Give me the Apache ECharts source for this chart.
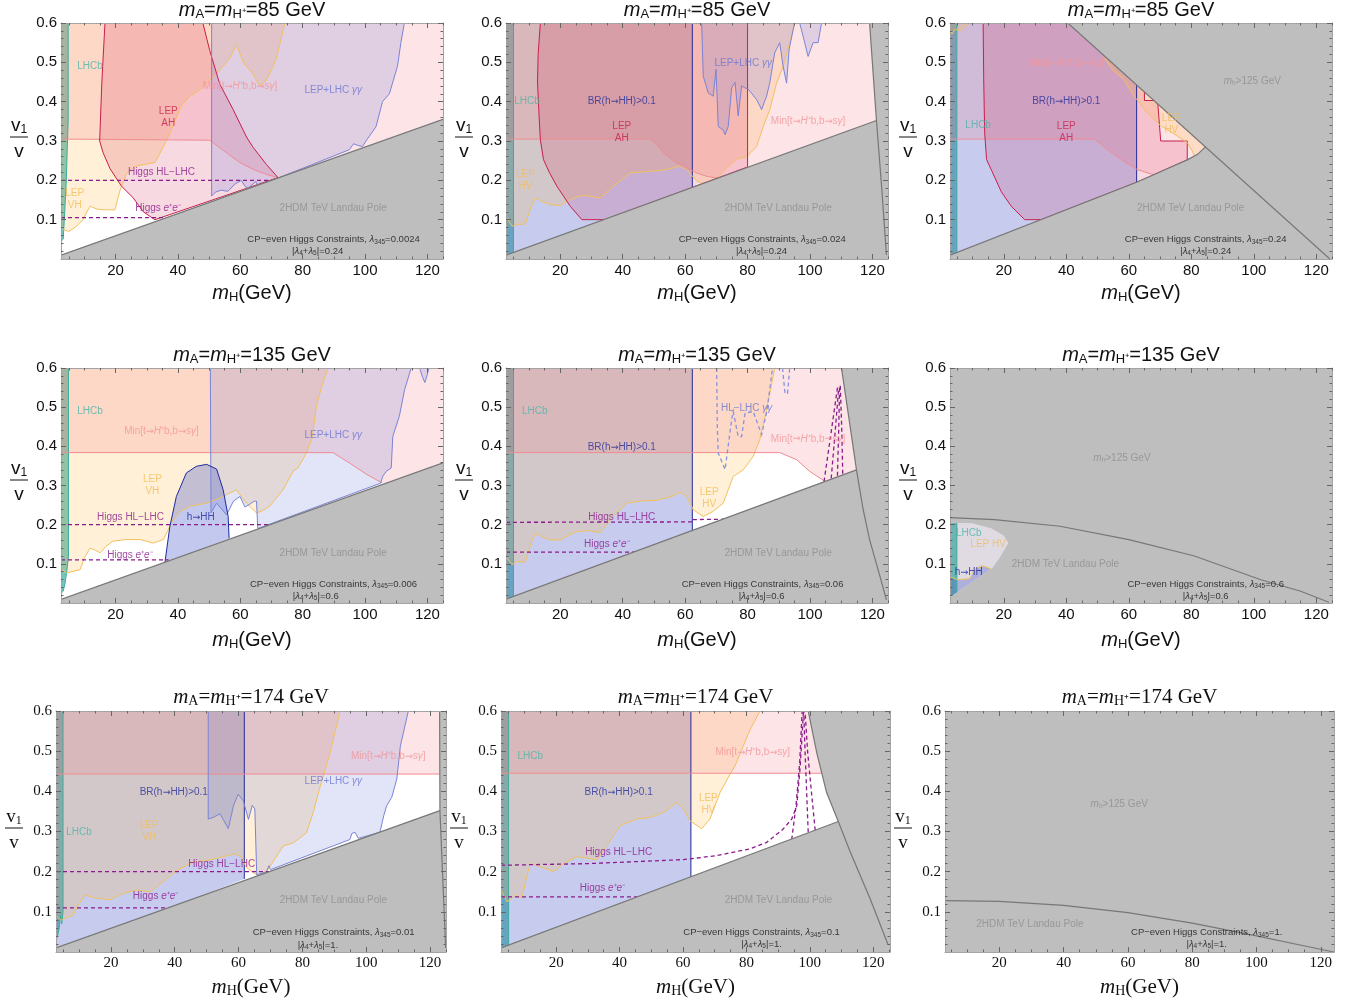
<!DOCTYPE html>
<html>
<head>
<meta charset="utf-8">
<script src="https://cdn.jsdelivr.net/npm/echarts@6/dist/echarts.min.js"></script>
<style>html,body{margin:0;padding:0;background:#fff}#main{width:1349px;height:999px}</style>
</head>
<body>
<div id="main"></div>
<script>
// ---- tick values ----
const xMajor = [20, 40, 60, 80, 100, 120];
const yMajor = [0.1, 0.2, 0.3, 0.4, 0.5, 0.6];

// ---- panel parameters ----
const MA = [85, 85, 85, 135, 135, 135, 174, 174, 174];
const L345 = ['0.0024', '0.024', '0.24', '0.006', '0.06', '0.6', '0.01', '0.1', '1.'];
const L45 = ['0.24', '0.24', '0.24', '0.6', '0.6', '0.6', '1.', '1.', '1.'];
const XR = [[2.5, 125], [2.6, 125], [2.8, 125], [2.5, 125], [2.6, 125], [2.8, 125], [2.8, 125], [2.6, 125.3], [3.1, 124.1]];

// ---- panel 1 : mA=85, l345=0.0024 ----
const p1LhcbEdge = [[4.8,0.6],[4.8,0.35],[4.5,0.28],[4.2,0.2],[3.7,0.12],[3.2,0.05]];
const p1LhcbClose = [[2.5,0.04],[2.5,0.6]];
const p1LepEdge = [[3.2,0.075],[5,0.07],[7.5,0.083],[9.5,0.1],[11.8,0.134],[14,0.127],[16,0.125],[19.8,0.125],[21.4,0.174],[23.5,0.216],[26,0.235],[28.9,0.24],[32.6,0.245],[35,0.28],[37.4,0.32],[41.1,0.39],[44,0.415],[47,0.43],[52.3,0.47],[56.6,0.51],[58.8,0.545],[60.9,0.5],[64.1,0.47],[66.2,0.44],[68.4,0.454],[71.6,0.51],[74.3,0.6]];
const p1LepClose = [[2.5,0.6],[2.5,0.075]];
const p1MinEdge = [[2.5,0.305],[50.2,0.302],[55.6,0.27],[59.9,0.245],[64.1,0.228],[68.4,0.215],[72.1,0.207]];
const p1MinClose = [[125,0.2],[125,0.6],[2.5,0.6]];
const p1AhEdge = [[16.6,0.6],[15.6,0.45],[14.9,0.3],[16,0.27],[18.2,0.23],[21.9,0.185],[25.6,0.156],[28.9,0.12],[32.6,0.1],[72.1,0.207],[68.4,0.24],[64.1,0.284],[62,0.31],[57.7,0.38],[53.4,0.445],[50.2,0.53],[48,0.6]];
const p1GgEdge = [[50.8,0.6],[50.8,0.16],[52,0.17],[53.9,0.175],[56,0.172],[58.2,0.19],[60.3,0.2],[61.5,0.185],[62.4,0.18],[64,0.19],[65,0.197],[65.6,0.185],[95,0.278],[96.3,0.293],[98,0.288],[99.2,0.286],[100.3,0.3],[103.5,0.336],[105.6,0.4],[107.8,0.42],[110.4,0.49],[111.5,0.55],[112.6,0.6]];
const p1HL = [[2.5,0.2],[70,0.2]];
const p1Ee = [[2.5,0.105],[35.5,0.105]];
const p1Gray = [[2.5,0],[2.5,0.01],[125,0.355],[125,0]];
const p1GrayEdge = [[2.5,0.01],[125,0.355]];
const p1Labels = [
  [11.8,0.49,'LHCb','lhcb'],
  [36.9,0.36,'LEP\nAH','ah'],
  [59.9,0.439,'Min[t→{i|H}⁺b,b→s{i|γ}]','min'],
  [89.8,0.43,'LEP+LHC {i|γγ}','gg'],
  [34.7,0.221,'Higgs HL−LHC','higgs'],
  [33.6,0.13,'Higgs {i|e}⁺{i|e}⁻','higgs'],
  [6.9,0.152,'LEP\nVH','lep'],
  [89.8,0.13,'2HDM TeV Landau Pole','gray']
];

// ---- panel 2 : mA=85, l345=0.024 ----
const p2LhcbEdge = [[5,0.6],[5,0.01]];
const p2LhcbClose = [[2.6,0.01],[2.6,0.6]];
const p2BrEdge = [[62.3,0.6],[62.3,0.18]];
const p2BrClose = [[2.6,0],[2.6,0.6]];
const p2LepEdge = [[2.9,0.104],[4.5,0.083],[6,0.088],[8.8,0.089],[10.5,0.13],[12,0.155],[14.5,0.145],[16.8,0.138],[20,0.136],[23.2,0.151],[26,0.16],[28.5,0.161],[32.8,0.155],[37,0.185],[42.4,0.219],[48.8,0.223],[54.1,0.227],[58.4,0.237],[60.5,0.227],[63.7,0.198],[66.9,0.189],[70.1,0.206],[73.3,0.231],[76.5,0.254],[79.7,0.26],[82.9,0.286],[85,0.336],[87.1,0.379],[89.3,0.447],[91.4,0.49],[94.1,0.566],[95.1,0.6]];
const p2LepClose = [[2.6,0.6],[2.6,0.104]];
const p2MinEdge = [[2.6,0.305],[48.8,0.305],[51,0.29],[53,0.27],[57.3,0.244],[63.7,0.219],[67,0.21],[71,0.205]];
const p2MinClose = [[125,0.2],[125,0.6],[2.6,0.6]];
const p2AhEdge = [[13.6,0.6],[12.9,0.52],[12.7,0.45],[13.1,0.38],[13.6,0.304],[14.6,0.253],[16.5,0.22],[18.9,0.185],[23.2,0.134],[26.9,0.1],[34.4,0.1],[80,0.234],[80,0.6]];
const p2GgEdge = [[65.3,0.6],[65.8,0.465],[67.4,0.422],[69,0.414],[69.9,0.482],[70.6,0.337],[72.2,0.328],[72.8,0.316],[73.8,0.337],[74.9,0.435],[76,0.449],[77,0.364],[78.1,0.44],[78.9,0.436],[80.2,0.432],[82.9,0.405],[84.5,0.38],[86.1,0.414],[87.1,0.447],[88.7,0.524],[90.3,0.55],[91.4,0.49],[92.5,0.447],[93.3,0.532],[94.6,0.583],[95.1,0.6]];
const p2Gg2Edge = [[96.7,0.6],[97.8,0.566],[99.4,0.515],[101,0.55],[102.6,0.55],[103.7,0.6]];
const p2Gray = [[2.6,0],[2.6,0.01],[121.3,0.352],[119.1,0.6],[125,0.6],[125,0]];
const p2GrayEdge = [[2.6,0.01],[121.3,0.352]];
const p2SteepEdge = [[119.1,0.6],[121.3,0.352],[123,0.18],[124.5,0.01]];
const p2Labels = [
  [9.3,0.401,'LHCb','lhcb'],
  [39.7,0.401,'BR(h→HH)>0.1','br'],
  [39.7,0.321,'LEP\nAH','ah'],
  [78.6,0.498,'LEP+LHC {i|γγ}','gg'],
  [99.4,0.35,'Min[t→{i|H}⁺b,b→s{i|γ}]','min'],
  [8.8,0.2,'LEP\nHV','lep'],
  [89.8,0.13,'2HDM TeV Landau Pole','gray']
];

// ---- panel 3 : mA=85, l345=0.24 ----
const p3LhcbEdge = [[5,0.6],[5,0.01]];
const p3LhcbClose = [[2.8,0.01],[2.8,0.6]];
const p3BrEdge = [[62.5,0.6],[62.5,0.195]];
const p3BrClose = [[2.8,0],[2.8,0.6]];
const p3MinEdge = [[2.8,0.305],[49,0.305],[52.2,0.284],[57.5,0.253],[62.8,0.227],[68,0.214]];
const p3MinClose = [[100,0.1],[100,0.6],[2.8,0.6]];
const p3AhEdge = [[13.4,0.6],[13.6,0.45],[13.9,0.32],[14.5,0.253],[16,0.227],[19.2,0.171],[22.4,0.134],[26.7,0.1],[32,0.1],[62.5,0.195],[67.6,0.213],[73,0.232],[78.7,0.252],[78.7,0.3],[70.2,0.3],[69.2,0.403],[65,0.403],[65,0.447],[62.5,0.447]];
const p3AhClose = [[40.5,0.6]];
const p3LepEdge = [[52.2,0.511],[55,0.48],[58.5,0.456],[61.7,0.414],[66,0.371],[70.2,0.339],[75.5,0.313],[78.7,0.296],[80.3,0.275],[81,0.262]];
const p3LepClose = [[95,0.2],[95,0.6],[52.2,0.6]];
const p3LepTopEdge = [[2.8,0.585],[3.5,0.572],[4.5,0.585],[6,0.58],[7.5,0.59],[9,0.6]];
const p3LepTopClose = [[2.8,0.6]];
const p3Gray = [[2.8,0.01],[62.5,0.195],[67.6,0.213],[73,0.232],[78.7,0.252],[82,0.266],[84.5,0.285],[40.5,0.6],[125,0.6],[125,0],[2.8,0]];
const p3GrayEdge = [[2.8,0.01],[62.5,0.195],[67.6,0.213],[73,0.232],[78.7,0.252],[82,0.266],[84.5,0.285]];
const p3MhEdge = [[40.5,0.6],[124.3,0]];
const p3Labels = [
  [99.5,0.452,'{i|m}{s|h}>125 GeV','gray'],
  [40,0.498,'Min[t→{i|H}⁺b,b→s{i|γ}]','min'],
  [40,0.401,'BR(h→HH)>0.1','br'],
  [11.8,0.339,'LHCb','lhcb'],
  [40,0.321,'LEP\nAH','ah'],
  [73.6,0.342,'LEP\nHV','lep'],
  [79.8,0.13,'2HDM TeV Landau Pole','gray']
];

// ---- panel 4 : mA=135, l345=0.006 ----
const p4LhcbEdge = [[4.9,0.6],[4.9,0.12],[4.5,0.09],[3.8,0.05],[3.2,0.03]];
const p4LhcbClose = [[2.5,0.02],[2.5,0.6]];
const p4LepEdge = [[2.7,0.085],[4.3,0.077],[6,0.08],[8.6,0.085],[10,0.115],[11.8,0.14],[13.5,0.135],[15,0.128],[17,0.145],[19.2,0.158],[23.5,0.162],[27.8,0.162],[32.1,0.153],[35.3,0.162],[38.5,0.213],[41,0.235],[43.9,0.247],[49.2,0.255],[53.5,0.268],[56.7,0.281],[58.8,0.289],[60.5,0.27],[62,0.255],[65.2,0.23],[67,0.235],[69.4,0.247],[73.7,0.289],[76.9,0.336],[78.5,0.345],[81.2,0.383],[83,0.42],[84.4,0.502],[86,0.55],[88.2,0.6]];
const p4LepClose = [[2.5,0.6],[2.5,0.085]];
const p4MinEdge = [[2.5,0.384],[89.7,0.384],[92.5,0.37],[95.1,0.357],[100.6,0.328],[105.4,0.307]];
const p4MinClose = [[125,0.2],[125,0.6],[2.5,0.6]];
const p4GgEdge = [[50.4,0.6],[50.6,0.23],[52.4,0.255],[55.6,0.225],[57.8,0.26],[59.9,0.272],[61.5,0.245],[63,0.252],[64.5,0.26],[65.2,0.26],[65.6,0.19],[105,0.306],[105.7,0.324],[106.8,0.336],[108.4,0.345],[108.9,0.425],[111,0.477],[112.7,0.545],[114.8,0.6]];
const p4Gg2Edge = [[117.5,0.6],[118.5,0.575],[119.2,0.563],[120,0.585],[120.5,0.6]];
const p4HhEdge = [[35.8,0.102],[37.4,0.195],[39.5,0.272],[42.7,0.332],[45.9,0.349],[49.2,0.354],[52.4,0.342],[54.5,0.289],[56.1,0.221],[56.4,0.165]];
const p4HL = [[2.5,0.2],[69.4,0.2]];
const p4Ee = [[2.5,0.11],[37,0.11]];
const p4Gray = [[2.5,0],[2.5,0.009],[125,0.358],[125,0]];
const p4GrayEdge = [[2.5,0.009],[125,0.358]];
const p4Labels = [
  [11.8,0.489,'LHCb','lhcb'],
  [34.7,0.438,'Min[t→{i|H}⁺b,b→s{i|γ}]','min'],
  [89.8,0.428,'LEP+LHC {i|γγ}','gg'],
  [31.8,0.301,'LEP\nVH','lep'],
  [47.3,0.219,'h→HH','hh'],
  [24.8,0.219,'Higgs HL−LHC','higgs'],
  [24.6,0.121,'Higgs {i|e}⁺{i|e}⁻','higgs'],
  [89.8,0.128,'2HDM TeV Landau Pole','gray']
];

// ---- panel 5 : mA=135, l345=0.06 ----
const p5LhcbEdge = [[5,0.6],[5,0.01]];
const p5LhcbClose = [[2.6,0.01],[2.6,0.6]];
const p5BrEdge = [[62.3,0.6],[62.3,0.18]];
const p5BrClose = [[2.6,0],[2.6,0.6]];
const p5LepEdge = [[2.6,0.119],[4.5,0.098],[6.1,0.106],[8.8,0.104],[10.5,0.15],[12,0.178],[14.5,0.168],[16.8,0.161],[20,0.161],[22.5,0.172],[25.3,0.182],[28.5,0.185],[32.8,0.18],[37,0.221],[41.3,0.255],[46.6,0.261],[50.9,0.262],[55.7,0.272],[58.4,0.283],[60.5,0.272],[62.6,0.238],[65.8,0.221],[69,0.234],[72.2,0.255],[75.4,0.323],[78.6,0.34],[81.8,0.374],[83.9,0.417],[86.1,0.493],[88.7,0.6]];
const p5LepClose = [[2.6,0.6]];
const p5MinEdge = [[2.6,0.384],[90.3,0.384],[95.7,0.366],[99.9,0.336],[104.7,0.311],[106,0.31]];
const p5MinClose = [[125,0.2],[125,0.6],[2.6,0.6]];
const p5HlGg = [[70.1,0.6],[70.3,0.45],[70.6,0.383],[72.8,0.341],[74.9,0.468],[75.4,0.489],[77,0.425],[78.1,0.425],[79.2,0.485],[81.8,0.489],[84.5,0.43],[86.2,0.49],[88,0.6]];
const p5HlGg2 = [[91.2,0.6],[92,0.535],[92.8,0.535],[93.5,0.6]];
const p5Fan1 = [[104.5,0.31],[106.5,0.42],[108.9,0.555]];
const p5Fan2 = [[106.8,0.318],[108,0.43],[109.2,0.55]];
const p5Fan3 = [[108.8,0.325],[109.2,0.44],[109.5,0.555]];
const p5Fan4 = [[110.5,0.33],[110.2,0.44],[109.7,0.555]];
const p5HL = [[2.6,0.206],[62.3,0.207],[62.4,0.213],[74.5,0.214]];
const p5Ee = [[2.6,0.13],[46,0.13]];
const p5Gray = [[2.6,0],[2.6,0.01],[114.9,0.34],[112.7,0.46],[110.1,0.6],[125,0.6],[125,0]];
const p5GrayEdge = [[2.6,0.01],[114.9,0.34]];
const p5SteepEdge = [[110.1,0.6],[112.7,0.46],[114.9,0.34],[117,0.24],[119.1,0.162],[122,0.08],[124.5,0.008]];
const p5Labels = [
  [11.8,0.489,'LHCb','lhcb'],
  [39.7,0.398,'BR(h→HH)>0.1','br'],
  [79.7,0.498,'HL−LHC {i|γγ}','gg'],
  [99.4,0.419,'Min[t→{i|H}⁺b,b→s{i|γ}]','min'],
  [67.7,0.268,'LEP\nHV','lep'],
  [39.7,0.219,'Higgs HL−LHC','higgs'],
  [34.9,0.149,'Higgs {i|e}⁺{i|e}⁻','higgs'],
  [89.8,0.128,'2HDM TeV Landau Pole','gray']
];

// ---- panel 6 : mA=135, l345=0.6 ----
const p6Leaf = [[2.8,0.205],[10,0.203],[16,0.19],[20,0.172],[21.4,0.153],[19,0.12],[16.1,0.087],[10,0.055],[4.9,0.026],[2.8,0.015]];
const p6Gray = p6Leaf.concat([[2.8,0],[125,0],[125,0.6],[2.8,0.6]]);
const p6Curve = [[2.8,0.218],[17,0.213],[38,0.196],[60,0.162],[81,0.12],[102,0.06],[115,0.03],[124,0.002]];
const p6LhcbEdge = [[5,0.205],[5,0.026]];
const p6LhcbClose = [[2.8,0.015],[2.8,0.205]];
const p6HhEdge = [[2.8,0.068],[4.9,0.06],[5.9,0.06],[9.1,0.062],[10.7,0.085],[12.8,0.095],[14,0.093],[16.1,0.087]];
const p6HhClose = [[4.9,0.026],[2.8,0.015]];
const p6Labels = [
  [57.8,0.369,'{i|m}{s|h}>125 GeV','gray'],
  [8.8,0.179,'LHCb','lhcb'],
  [15,0.149,'LEP HV','lep'],
  [8.8,0.078,'h→HH','hh'],
  [39.7,0.098,'2HDM TeV Landau Pole','gray']
];

// ---- panel 7 : mA=174, l345=0.01 ----
const p7LhcbEdge = [[5,0.6],[5,0.1],[4.6,0.07],[4.2,0.09],[3.8,0.06],[3.3,0.04]];
const p7LhcbClose = [[2.8,0.01],[2.8,0.6]];
const p7BrEdge = [[61.8,0.6],[61.8,0.182]];
const p7BrClose = [[2.8,0],[2.8,0.6]];
const p7MinEdge = [[2.8,0.443],[123,0.443]];
const p7MinClose = [[123,0.6],[2.8,0.6]];
const p7LepEdge = [[2.8,0.09],[4.4,0.079],[6,0.085],[8.2,0.092],[10,0.12],[11.9,0.142],[13.5,0.138],[15.5,0.134],[19.7,0.13],[23.9,0.146],[28,0.154],[32.2,0.15],[36.4,0.175],[40.6,0.203],[45.8,0.223],[52.1,0.231],[58.4,0.244],[60.5,0.24],[62.5,0.21],[65.7,0.192],[67.8,0.19],[69.3,0.206],[74,0.264],[77.2,0.272],[81.3,0.297],[83.5,0.35],[85.6,0.413],[88.7,0.496],[91.8,0.6]];
const p7LepClose = [[2.8,0.6]];
const p7GgEdge = [[50.5,0.6],[50.5,0.331],[52,0.335],[54.2,0.344],[56.8,0.307],[58.4,0.364],[59.9,0.393],[61.5,0.376],[63.1,0.33],[64.3,0.365],[65.1,0.356],[65.7,0.192],[68.8,0.2],[69.5,0.215],[70,0.205],[94.9,0.28],[95.5,0.295],[96.5,0.298],[97.5,0.283],[104.3,0.298],[105.5,0.34],[106.4,0.364],[108,0.385],[109.6,0.431],[110.7,0.513],[113.2,0.6]];
const p7HL = [[2.8,0.2],[69.9,0.2]];
const p7Ee = [[2.8,0.11],[38.5,0.11]];
const p7Gray = [[2.8,0],[2.8,0.01],[123.1,0.352],[123,0.6],[125,0.6],[125,0]];
const p7GrayEdge = [[2.8,0.01],[123.1,0.352]];
const p7SteepEdge = [[123,0.6],[123.1,0.352],[124.9,0.01]];
const p7Labels = [
  [106.9,0.487,'Min[t→{i|H}⁺b,b→s{i|γ}]','min'],
  [89.7,0.426,'LEP+LHC {i|γγ}','gg'],
  [39.7,0.397,'BR(h→HH)>0.1','br'],
  [32,0.3,'LEP\nVH','lep'],
  [10,0.298,'LHCb','lhcb'],
  [54.7,0.218,'Higgs HL−LHC','higgs'],
  [34,0.14,'Higgs {i|e}⁺{i|e}⁻','higgs'],
  [89.7,0.129,'2HDM TeV Landau Pole','gray']
];

// ---- panel 8 : mA=174, l345=0.1 ----
const p8LhcbEdge = [[5,0.6],[5,0.01]];
const p8LhcbClose = [[2.6,0.01],[2.6,0.6]];
const p8BrEdge = [[62.5,0.6],[62.5,0.187]];
const p8BrClose = [[2.6,0],[2.6,0.6]];
const p8MinEdge = [[2.6,0.445],[108,0.445]];
const p8MinClose = [[108,0.6],[2.6,0.6]];
const p8LepEdge = [[2.6,0.154],[4.5,0.125],[7.1,0.141],[9.2,0.134],[10.5,0.18],[11.8,0.22],[15,0.212],[19.2,0.2],[22.3,0.22],[26.5,0.237],[29.7,0.234],[32.8,0.229],[36,0.265],[40.2,0.315],[45.4,0.331],[49.6,0.335],[53.8,0.347],[58.1,0.372],[60.1,0.356],[62.2,0.327],[65.9,0.307],[68.5,0.331],[71.7,0.397],[74.8,0.442],[76.4,0.463],[79,0.513],[81.2,0.554],[84.3,0.6]];
const p8LepClose = [[2.6,0.6]];
const p8HL = [[2.6,0.216],[30,0.22],[60.1,0.23],[70.7,0.24],[81.2,0.257],[86.4,0.273],[91.6,0.306],[94.3,0.331],[95.9,0.364],[96.9,0.455],[97.5,0.53],[98,0.6]];
const p8Fan1 = [[94.3,0.28],[95.6,0.36],[96.8,0.47],[97.6,0.6]];
const p8Fan2 = [[99.5,0.298],[99,0.4],[98.5,0.5],[98.1,0.6]];
const p8Fan3 = [[101.7,0.303],[100.5,0.4],[99.3,0.5],[98.5,0.6]];
const p8Ee = [[2.6,0.137],[48.6,0.137]];
const p8Gray = [[2.6,0],[2.6,0.01],[109,0.325],[105.3,0.397],[102.2,0.496],[99.5,0.6],[125.3,0.6],[125.3,0]];
const p8GrayEdge = [[2.6,0.01],[109,0.325]];
const p8SteepEdge = [[99.5,0.6],[102.2,0.496],[105.3,0.397],[109,0.325],[112.7,0.25],[119,0.133],[124.7,0.018]];
const p8Labels = [
  [11.8,0.487,'LHCb','lhcb'],
  [39.7,0.397,'BR(h→HH)>0.1','br'],
  [82,0.497,'Min[t→{i|H}⁺b,b→s{i|γ}]','min'],
  [68,0.368,'LEP\nHV','lep'],
  [39.7,0.249,'Higgs HL−LHC','higgs'],
  [34.6,0.159,'Higgs {i|e}⁺{i|e}⁻','higgs'],
  [90.1,0.129,'2HDM TeV Landau Pole','gray']
];

// ---- panel 9 : mA=174, l345=1 ----
const p9Gray = [[3.1,0],[3.1,0.6],[124.1,0.6],[124.1,0]];
const p9Curve = [[3.1,0.128],[20,0.126],[40,0.116],[60,0.098],[80,0.072],[100,0.04],[115,0.015],[124.1,0]];
const p9Labels = [
  [57.3,0.367,'{i|m}{s|h}>125 GeV','gray'],
  [29.5,0.068,'2HDM TeV Landau Pole','gray']
];

// CP-even caption anchors (x1, y1, x2, y2) in data units
const CP_POS = [
  [89.9,0.049,84.8,0.019],[84.7,0.049,84.5,0.02],[84.6,0.049,84.6,0.02],
  [89.9,0.047,84.2,0.017],[84.8,0.047,84.5,0.017],[84.6,0.047,84.6,0.017],
  [89.8,0.048,84.9,0.017],[84.8,0.048,84.8,0.019],[84.5,0.048,84.5,0.019]
];

// ---- layout / styles ----
const SANS = "'Liberation Sans', Arial, sans-serif";
const SERIF = "'Liberation Serif', 'Times New Roman', serif";
const ARROW_FONT = "'DejaVu Sans', sans-serif";
const BOXES = [
  [61,23,382,236,0],[506,23,382,236,0],[950,23,382,236,0],
  [61,368,382,235,0],[506,368,382,235,0],[950,368,382,235,0],
  [56,711,390,241,1],[501,711,389,241,1],[945,711,389,241,1]
];
const ROW_TITLE_Y = [10, 355, 697];
const ROW_NAME_Y = [293, 640, 987];
const ROW_FRAC_Y = [137, 480, 828];

const FILL = {
  lhcb: 'rgba(35,160,150,0.62)',
  lep: 'rgba(255,188,75,0.22)',
  min: 'rgba(245,120,135,0.2)',
  ah: 'rgba(205,30,75,0.17)',
  gg: 'rgba(110,120,215,0.2)',
  br: 'rgba(70,85,200,0.3)',
  hh: 'rgba(55,75,200,0.3)',
  leaf: 'rgb(224,219,226)'
};
const STROKE = {
  lhcb: '#38ae9f', lep: '#f2c15e', min: '#ef8c92', ah: '#c91f4c', gg: '#7a84d6',
  br: '#232a98', hh: '#1e2a9e', higgs: '#8b1a8c', ggdash: '#8a93dc'
};
const TEXT = {
  lhcb: '#4ab5a8', lep: '#f3bd5a', ah: '#c91f4c', min: '#f29599', gg: '#6b76d2',
  br: '#26309a', hh: '#1e2a9e', higgs: '#8b1a8c', gray: '#8e8e8e', cp: '#111'
};

const PANELS = [
  { regions: [[p1LhcbEdge,p1LhcbClose,'lhcb'],[p1LepEdge,p1LepClose,'lep'],[p1MinEdge,p1MinClose,'min'],[p1AhEdge,[],'ah'],[p1GgEdge,[],'gg']],
    dashes: [[p1HL,'higgs'],[p1Ee,'higgs']], gray: p1Gray, grayEdges: [p1GrayEdge], labels: p1Labels },
  { regions: [[p2LhcbEdge,p2LhcbClose,'lhcb'],[p2BrEdge,p2BrClose,'br'],[p2LepEdge,p2LepClose,'lep'],[p2MinEdge,p2MinClose,'min'],[p2AhEdge,[],'ah'],[p2GgEdge,[],'gg'],[p2Gg2Edge,[],'gg']],
    dashes: [], gray: p2Gray, grayEdges: [p2GrayEdge,p2SteepEdge], labels: p2Labels },
  { regions: [[p3LhcbEdge,p3LhcbClose,'lhcb'],[p3BrEdge,p3BrClose,'br'],[p3MinEdge,p3MinClose,'min'],[p3AhEdge,p3AhClose,'ah'],[p3LepEdge,p3LepClose,'lep'],[p3LepTopEdge,p3LepTopClose,'lep']],
    dashes: [], gray: p3Gray, grayEdges: [p3GrayEdge,p3MhEdge], labels: p3Labels },
  { regions: [[p4LhcbEdge,p4LhcbClose,'lhcb'],[p4LepEdge,p4LepClose,'lep'],[p4MinEdge,p4MinClose,'min'],[p4GgEdge,[],'gg'],[p4Gg2Edge,[],'gg'],[p4HhEdge,[],'hh']],
    dashes: [[p4HL,'higgs'],[p4Ee,'higgs']], gray: p4Gray, grayEdges: [p4GrayEdge], labels: p4Labels },
  { regions: [[p5LhcbEdge,p5LhcbClose,'lhcb'],[p5BrEdge,p5BrClose,'br'],[p5LepEdge,p5LepClose,'lep'],[p5MinEdge,p5MinClose,'min']],
    dashes: [[p5HL,'higgs'],[p5Ee,'higgs'],[p5Fan1,'higgs'],[p5Fan2,'higgs'],[p5Fan3,'higgs'],[p5Fan4,'higgs'],[p5HlGg,'ggdash'],[p5HlGg2,'ggdash']],
    gray: p5Gray, grayEdges: [p5GrayEdge,p5SteepEdge], labels: p5Labels },
  { regions: [[p6Leaf,[],'leaf'],[p6LhcbEdge,p6LhcbClose,'lhcb'],[p6HhEdge,p6HhClose,'hh','lep']],
    dashes: [], gray: p6Gray, grayEdges: [p6Curve], labels: p6Labels },
  { regions: [[p7LhcbEdge,p7LhcbClose,'lhcb'],[p7BrEdge,p7BrClose,'br'],[p7LepEdge,p7LepClose,'lep'],[p7MinEdge,p7MinClose,'min'],[p7GgEdge,[],'gg']],
    dashes: [[p7HL,'higgs'],[p7Ee,'higgs']], gray: p7Gray, grayEdges: [p7GrayEdge,p7SteepEdge], labels: p7Labels },
  { regions: [[p8LhcbEdge,p8LhcbClose,'lhcb'],[p8BrEdge,p8BrClose,'br'],[p8LepEdge,p8LepClose,'lep'],[p8MinEdge,p8MinClose,'min']],
    dashes: [[p8HL,'higgs'],[p8Fan1,'higgs'],[p8Fan2,'higgs'],[p8Fan3,'higgs'],[p8Ee,'higgs']],
    gray: p8Gray, grayEdges: [p8GrayEdge,p8SteepEdge], labels: p8Labels },
  { regions: [], dashes: [], gray: p9Gray, grayEdges: [p9Curve], labels: p9Labels }
];

function richFor(fam, size) {
  return {
    i: { fontStyle: 'italic', fontFamily: fam, fontSize: size },
    s: { fontFamily: fam, fontSize: Math.round(size * 0.65), padding: [Math.round(size * 0.4), 0, 0, 0] }
  };
}

function polySeries(gi, pts, fill, z) {
  return {
    type: 'custom', coordinateSystem: 'cartesian2d', xAxisIndex: gi * 4, yAxisIndex: gi * 4,
    clip: true, silent: true, z: z, data: pts, encode: { x: 0, y: 1 },
    renderItem: function (params, api) {
      if (params.dataIndex !== 0) return null;
      return { type: 'polygon', shape: { points: pts.map(p => api.coord(p)) }, style: { fill: fill } };
    }
  };
}

function lineSeries(gi, pts, color, width, dash, z) {
  return {
    type: 'custom', coordinateSystem: 'cartesian2d', xAxisIndex: gi * 4, yAxisIndex: gi * 4,
    clip: true, silent: true, z: z, data: pts, encode: { x: 0, y: 1 },
    renderItem: function (params, api) {
      if (params.dataIndex !== 0) return null;
      return {
        type: 'polyline', shape: { points: pts.map(p => api.coord(p)) },
        style: { stroke: color, lineWidth: width, fill: 'none', lineDash: dash || null }
      };
    }
  };
}

function inRange(vals, r) { return vals.filter(v => v >= r[0] - 1e-9 && v <= r[1] + 1e-9); }

const xMinorAll = [];
for (let v = 5; v <= 125; v += 5) if (v % 20 !== 0) xMinorAll.push(v);
const yMinorAll = [];
for (let k = 1; k < 30; k++) if (k % 5 !== 0) yMinorAll.push(+(k * 0.02).toFixed(2));

const grids = [], xAxes = [], yAxes = [], series = [], graphics = [];

PANELS.forEach(function (P, gi) {
  const b = BOXES[gi];
  const fam = b[4] ? SERIF : SANS;
  const xr = XR[gi];
  const row = Math.floor(gi / 3);
  grids.push({ left: b[0], top: b[1], width: b[2], height: b[3], show: false });

  ['bottom', 'top'].forEach(function (pos) {
    [true, false].forEach(function (major) {
      xAxes.push({
        gridIndex: gi, type: 'value', min: xr[0], max: xr[1], position: pos, z: 10,
        axisLine: { show: major, onZero: false, lineStyle: { color: '#a3a3a3', width: 1 } },
        axisTick: { show: true, inside: true, length: major ? 5 : 2.5,
          customValues: major ? inRange(xMajor, xr) : inRange(xMinorAll, xr),
          lineStyle: { color: '#666', width: 1 } },
        axisLabel: { show: major && pos === 'bottom', customValues: inRange(xMajor, xr),
          fontFamily: fam, fontSize: 15, color: '#111', margin: 4 },
        splitLine: { show: false }
      });
    });
  });
  ['left', 'right'].forEach(function (pos) {
    [true, false].forEach(function (major) {
      yAxes.push({
        gridIndex: gi, type: 'value', min: 0, max: 0.6, position: pos, z: 10,
        axisLine: { show: major, onZero: false, lineStyle: { color: '#a3a3a3', width: 1 } },
        axisTick: { show: true, inside: true, length: major ? 5 : 2.5,
          customValues: major ? yMajor : yMinorAll, lineStyle: { color: '#666', width: 1 } },
        axisLabel: { show: major && pos === 'left', customValues: yMajor,
          formatter: v => v.toFixed(1), fontFamily: fam, fontSize: 15, color: '#111', margin: 4 },
        splitLine: { show: false }
      });
    });
  });

  // filled constraint regions, then their boundaries
  P.regions.forEach(r => series.push(polySeries(gi, r[0].concat(r[1]), FILL[r[2]], 2)));
  P.regions.forEach(function (r) {
    const sk = r[3] || r[2];
    if (STROKE[sk]) series.push(lineSeries(gi, r[0], STROKE[sk], 1, null, 3));
  });
  P.dashes.forEach(d => series.push(lineSeries(gi, d[0], STROKE[d[1]], 1.3, [4, 3], 3)));
  // landau pole / mh>125 excluded area
  series.push(polySeries(gi, P.gray, '#bebebe', 4));
  P.grayEdges.forEach(e => series.push(lineSeries(gi, e, '#777', 1.2, null, 5)));

  // text annotations placed in data coordinates
  const cp = CP_POS[gi];
  const items = P.labels.map(l => ({ value: [l[0], l[1]], name: l[2], label: { color: TEXT[l[3]] } }));
  items.push({ value: [cp[0], cp[1]], name: 'CP−even Higgs Constraints, {i|λ}{s|345}=' + L345[gi], label: { color: TEXT.cp, fontSize: 9.5 } });
  items.push({ value: [cp[2], cp[3]], name: '|{i|λ}{s|4}+{i|λ}{s|5}|=' + L45[gi], label: { color: TEXT.cp, fontSize: 9.5 } });
  series.push({
    type: 'scatter', xAxisIndex: gi * 4, yAxisIndex: gi * 4, z: 8, silent: true,
    symbolSize: 1, itemStyle: { color: 'rgba(0,0,0,0)' },
    label: { show: true, position: 'inside', fontFamily: SANS, fontSize: 10, lineHeight: 12,
      formatter: p => p.name.replace(/→/g, '{a|→}'),
      rich: { i: { fontStyle: 'italic' }, s: { fontSize: 6.5, padding: [4, 0, 0, 0] },
        a: { fontFamily: ARROW_FONT, fontSize: 9.5 } } },
    data: items
  });

  // titles, axis names, fraction label
  const cx = b[0] + b[2] / 2;
  const tSize = b[4] ? 21 : 20;
  graphics.push({ type: 'text', x: cx, y: ROW_TITLE_Y[row], silent: true,
    style: { text: '{i|m}{s|A}={i|m}{s|H⁺}=' + MA[gi] + ' GeV', fontFamily: fam, fontSize: tSize, fill: '#111',
      align: 'center', verticalAlign: 'middle', rich: richFor(fam, tSize) } });
  graphics.push({ type: 'text', x: cx, y: ROW_NAME_Y[row], silent: true,
    style: { text: '{i|m}{s|H}(GeV)', fontFamily: fam, fontSize: tSize, fill: '#111',
      align: 'center', verticalAlign: 'middle', rich: richFor(fam, tSize) } });
  const fx = b[0] - 42, fy = ROW_FRAC_Y[row];
  graphics.push({ type: 'text', x: fx, y: fy - 11, silent: true,
    style: { text: 'v{s|1}', fontFamily: fam, fontSize: 19, fill: '#111', align: 'center', verticalAlign: 'middle', rich: richFor(fam, 19) } });
  graphics.push({ type: 'line', silent: true, shape: { x1: fx - 9, y1: fy, x2: fx + 9, y2: fy }, style: { stroke: '#111', lineWidth: 1 } });
  graphics.push({ type: 'text', x: fx, y: fy + 15, silent: true,
    style: { text: 'v', fontFamily: fam, fontSize: 19, fill: '#111', align: 'center', verticalAlign: 'middle' } });
});

const chart = echarts.init(document.getElementById('main'));
chart.setOption({
  backgroundColor: '#fff',
  animation: false,
  grid: grids,
  xAxis: xAxes,
  yAxis: yAxes,
  series: series,
  graphic: graphics
});
</script>
</body>
</html>
